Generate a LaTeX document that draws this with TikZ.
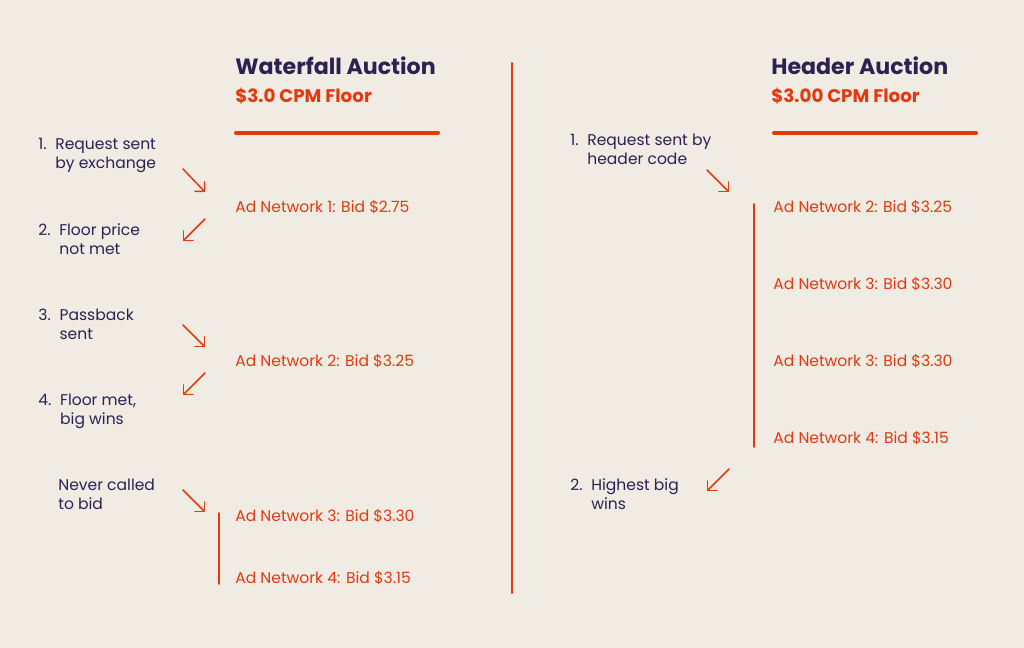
\documentclass[tikz,border=0pt]{standalone}
\usepackage{fontspec}
\setmainfont{Poppins}
\usepackage{tkz-euclide}
\usetikzlibrary{arrows.meta}
\definecolor{paper}{HTML}{F0ECE4}
\definecolor{ink}{HTML}{2B2152}
\definecolor{flame}{HTML}{E4380F}
\newcommand{\numtext}[3]{\begin{tabular}[t]{@{}l@{\hspace{5pt}}l@{}}#1&#2\\&#3\end{tabular}}
\newcommand{\twoline}[2]{\begin{tabular}[t]{@{}l@{}}#1\\#2\end{tabular}}
\tikzset{
  title/.style={anchor=base west,inner sep=0pt,text=ink,font=\fontsize{12.6}{14}\selectfont\bfseries},
  floor/.style={anchor=base west,inner sep=0pt,text=flame,font=\fontsize{10.4}{12}\selectfont\bfseries},
  note/.style={anchor=base west,inner sep=0pt,text=ink,font=\fontsize{8.85}{10.8}\selectfont},
  bid/.style={anchor=base west,inner sep=0pt,text=flame,font=\fontsize{8.85}{10.8}\selectfont},
  rule/.style={flame,line width=2.3pt},
  guide/.style={flame,line width=0.9pt},
  arr/.style={flame,line width=0.85pt,-{Straight Barb[angle=90:0.19cm,round]}}
}

\begin{document}
\begin{tikzpicture}
        \fill[paper] (0,0) rectangle (20.48,12.96);
        \useasboundingbox (0,0) rectangle (20.48,12.96);
        % lines
        \tkzDefPoints{10.24/11.70/T,10.24/1.10/U,4.72/10.30/L1,8.76/10.30/L2,15.48/10.30/R1,19.52/10.30/R2}
        \tkzDefPoints{4.38/2.70/V1,4.38/1.28/V2,15.08/8.88/W1,15.08/4.02/W2}
        \tkzDrawSegments[guide,line width=1.2pt](T,U)
        \tkzDrawSegments[rule](L1,L2 R1,R2)
        \tkzDrawSegments[guide](V1,V2 W1,W2)
        % arrows
        \tkzDefPoints{3.66/9.58/a1,4.10/9.12/b1,4.10/8.58/a2,3.66/8.14/b2,3.66/6.46/a3,4.10/6.02/b3}
        \tkzDefPoints{4.10/5.50/a4,3.66/5.06/b4,3.66/3.16/a5,4.10/2.72/b5}
        \tkzDefPoints{14.14/9.56/a6,14.58/9.12/b6,14.58/3.58/a7,14.14/3.14/b7}
        \tkzDrawSegments[arr](a1,b1 a2,b2 a3,b3 a4,b4 a5,b5 a6,b6 a7,b7)
        % waterfall
        \node[title] (wf) at (4.70,11.46) {Waterfall Auction};
        \node[floor] (wfsub) at (4.70,10.90) {\$3.0 CPM Floor};
        \node[note] (s1) at (0.76,9.96) {\numtext{1.}{Request sent}{by exchange}};
        \node[note] (s2) at (0.76,8.24) {\numtext{2.}{Floor price}{not met}};
        \node[note] (s3) at (0.76,6.54) {\numtext{3.}{Passback}{sent}};
        \node[note] (s4) at (0.76,4.84) {\numtext{4.}{Floor met,}{big wins}};
        \node[note] (s5) at (1.16,3.14) {\twoline{Never called}{to bid}};
        \node[bid] (n1) at (4.70,8.70) {Ad Network 1: Bid \$2.75};
        \node[bid] (n2) at (4.70,5.62) {Ad Network 2: Bid \$3.25};
        \node[bid] (n3) at (4.70,2.52) {Ad Network 3: Bid \$3.30};
        \node[bid] (n4) at (4.70,1.28) {Ad Network 4: Bid \$3.15};
        % header
        \node[title] (ha) at (15.42,11.46) {Header Auction};
        \node[floor] (hasub) at (15.42,10.90) {\$3.00 CPM Floor};
        \node[note] (h1) at (11.40,10.04) {\numtext{1.}{Request sent by}{header code}};
        \node[note] (h2) at (11.40,3.14) {\numtext{2.}{Highest big}{wins}};
        \node[bid] (m1) at (15.46,8.70) {Ad Network 2: Bid \$3.25};
        \node[bid] (m2) at (15.46,7.16) {Ad Network 3: Bid \$3.30};
        \node[bid] (m3) at (15.46,5.62) {Ad Network 3: Bid \$3.30};
        \node[bid] (m4) at (15.46,4.08) {Ad Network 4: Bid \$3.15};
    \end{tikzpicture}
\end{document}
